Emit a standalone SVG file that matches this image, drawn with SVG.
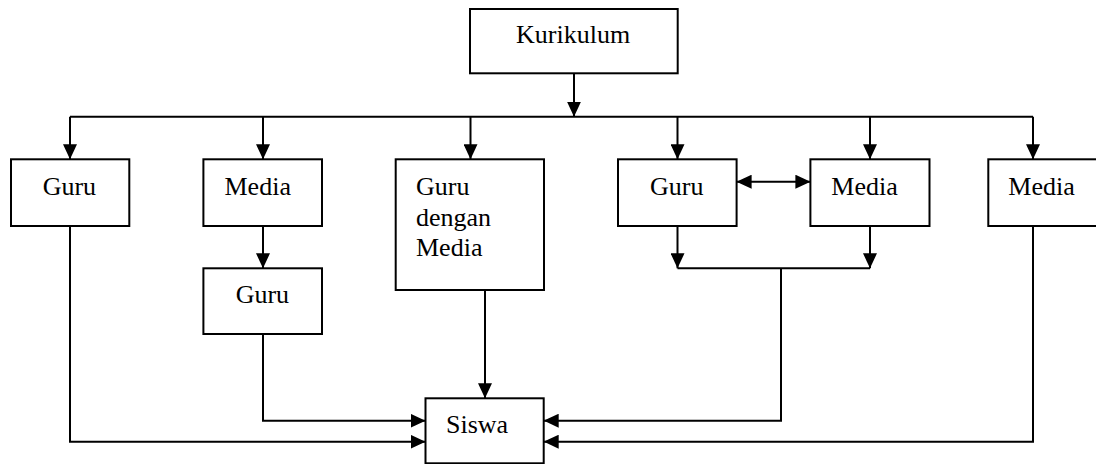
<svg xmlns="http://www.w3.org/2000/svg" width="1096" height="464" viewBox="0 0 1096 464">
<style>
.box{fill:#fff;stroke:#000;stroke-width:2}
.lbl{font-family:"Liberation Serif","Times New Roman",serif;font-size:26px;fill:#000}
.ln{fill:none;stroke:#000;stroke-width:2}
.arr{fill:none;stroke:#000;stroke-width:2;marker-end:url(#ah)}
</style>
<defs>
<marker id="ah" markerUnits="userSpaceOnUse" markerWidth="15" markerHeight="14" refX="15" refY="7" orient="auto-start-reverse" viewBox="0 0 15 14">
<path d="M0,0 L15,7 L0,14 z" fill="#000"/>
</marker>
</defs>
<rect width="1096" height="464" fill="#fff"/>
<g id="connectors">
<path class="arr" d="M574,73.3 V116.7"/>
<path class="ln" d="M70,116.7 H1033"/>
<path class="arr" d="M70,116.7 V159.3"/>
<path class="arr" d="M263,116.7 V159.3"/>
<path class="arr" d="M470.5,116.7 V159.3"/>
<path class="arr" d="M677.5,116.7 V159.3"/>
<path class="arr" d="M870,116.7 V159.3"/>
<path class="arr" d="M1033,116.7 V159.3"/>
<path class="arr" d="M263,226 V268.3"/>
<path class="arr" d="M70,226 V441.7 H425.5"/>
<path class="arr" d="M263,334 V420.7 H425.5"/>
<path class="arr" d="M485,290 V398.3"/>
<path class="arr" style="marker-start:url(#ah)" d="M736.6,181.7 H810.4"/>
<path class="arr" d="M677.5,226 V268.3"/>
<path class="arr" d="M870,226 V268.3"/>
<path class="ln" d="M677.5,268.3 H870"/>
<path class="arr" d="M781,268.3 V420.7 H543.7"/>
<path class="arr" d="M1033,226 V441.7 H543.7"/>
</g>
<g id="kurikulum"><rect class="box" x="470" y="9" width="207.7" height="64.3"/><text class="lbl" x="516" y="43.3">Kurikulum</text></g>
<g id="guru1"><rect class="box" x="11" y="159.3" width="118.3" height="66.7"/><text class="lbl" x="42.7" y="195">Guru</text></g>
<g id="media1"><rect class="box" x="203.4" y="159.3" width="118.6" height="66.7"/><text class="lbl" x="224.5" y="195">Media</text></g>
<g id="guru-lower"><rect class="box" x="203.4" y="268.3" width="118.6" height="65.7"/><text class="lbl" x="235.7" y="303.3">Guru</text></g>
<g id="guru-dengan-media"><rect class="box" x="395.7" y="159.3" width="148.3" height="130.7"/><text class="lbl" x="416" y="195">Guru</text><text class="lbl" x="416" y="225.5">dengan</text><text class="lbl" x="416" y="256">Media</text></g>
<g id="guru2"><rect class="box" x="618" y="159.3" width="118.6" height="66.7"/><text class="lbl" x="650" y="195">Guru</text></g>
<g id="media2"><rect class="box" x="810.4" y="159.3" width="119.1" height="66.7"/><text class="lbl" x="831.3" y="195">Media</text></g>
<g id="media3"><rect class="box" x="988.3" y="159.3" width="118.6" height="66.7"/><text class="lbl" x="1008.3" y="195">Media</text></g>
<g id="siswa"><rect class="box" x="425.5" y="398.3" width="118.2" height="65"/><text class="lbl" x="446" y="432.7">Siswa</text></g>
</svg>
